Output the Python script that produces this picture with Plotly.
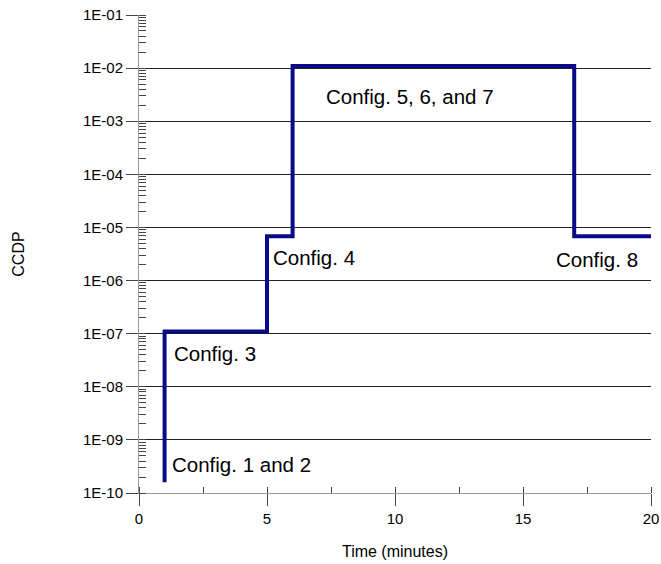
import math
import plotly.graph_objects as go

# Data (time in minutes, CCDP)
time_min = [1, 1, 5, 6, 17, 20]
ccdp = [1.6e-10, 1.1e-7, 6.8e-6, 1.1e-2, 6.8e-6, 6.8e-6]

# Labels
label_text = ["Config. 1 and 2", "Config. 3", "Config. 4", "Config. 5, 6, and 7", "Config. 8"]
label_x = [1.2, 1.3, 5.16, 7.22, 16.2]
label_y = [3.4e-10, 4.2e-8, 2.7e-6, 2.95e-3, 2.45e-6]

y_tickvals = [1e-10, 1e-9, 1e-8, 1e-7, 1e-6, 1e-5, 1e-4, 1e-3, 1e-2, 1e-1]
y_ticktext = ["1E-10", "1E-09", "1E-08", "1E-07", "1E-06", "1E-05", "1E-04", "1E-03", "1E-02", "1E-01"]
x_tickvals = [0, 5, 10, 15, 20]

FONT = "Liberation Sans, Arial, sans-serif"

fig = go.Figure()
fig.add_trace(go.Scatter(
    x=time_min, y=ccdp, mode="lines", line_shape="hv",
    line=dict(color="#0a0a88", width=4), showlegend=False, hoverinfo="skip",
))

for t, xv, yv in zip(label_text, label_x, label_y):
    fig.add_annotation(x=xv, y=math.log10(yv), xref="x", yref="y", text=t,
                       showarrow=False, xanchor="left", yanchor="middle",
                       font=dict(family=FONT, size=20.5, color="#000"))

fig.update_layout(
    width=661, height=564,
    margin=dict(l=139, r=10, t=15, b=71),
    paper_bgcolor="white", plot_bgcolor="white",
    font=dict(family=FONT, color="#000"),
)
fig.update_xaxes(
    range=[0, 20], tickvals=x_tickvals, ticks="outside", ticklen=12, tickcolor="#444",
    showgrid=False, zeroline=False, showline=True, linecolor="#999", linewidth=1,
    automargin=False,
    tickfont=dict(size=15), title=dict(text="Time (minutes)", font=dict(size=16), standoff=19),
    minor=dict(dtick=2.5, ticks="inside", ticklen=6, tickcolor="#444", showgrid=False),
)
fig.update_yaxes(
    type="log", range=[-10, -1], tickvals=y_tickvals, ticktext=y_ticktext,
    ticks="outside", ticklen=12, tickcolor="#444",
    showgrid=True, gridcolor="#222", gridwidth=1, zeroline=False,
    showline=True, linecolor="#999", linewidth=1,
    automargin=False,
    tickfont=dict(size=15), title=dict(text="CCDP", font=dict(size=16), standoff=54),
    minor=dict(dtick="D1", ticks="inside", ticklen=7, tickcolor="#444", showgrid=False),
)

fig.write_html("out.html", config={"displayModeBar": False},
               post_script="document.body.style.margin='0';document.body.style.overflow='hidden';")
